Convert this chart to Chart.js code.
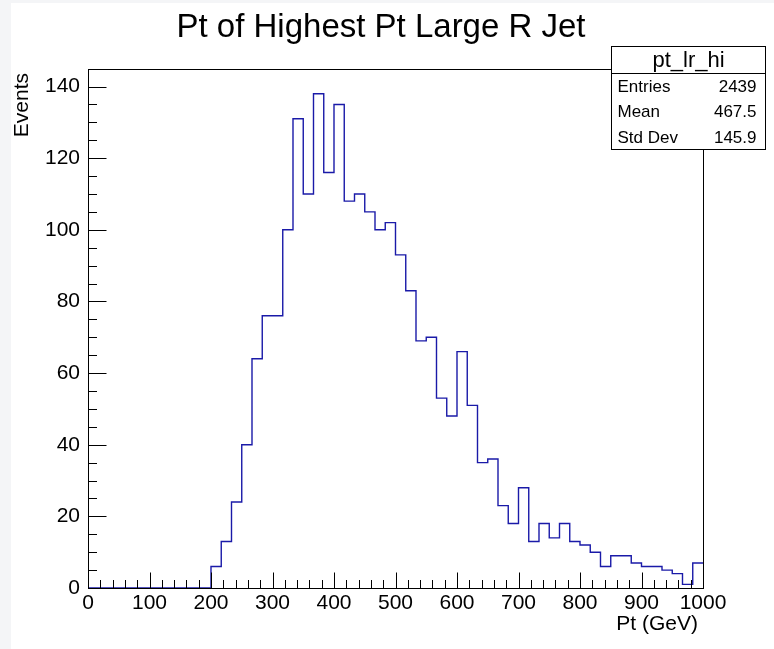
<!DOCTYPE html>
<html>
<head>
<meta charset="utf-8">
<script src="https://cdn.jsdelivr.net/npm/chart.js@4.4.1/dist/chart.umd.min.js"></script>
<style>
    html, body { margin: 0; padding: 0; background: #fff; }
    canvas { display: block; }
</style>
</head>
<body>
<canvas id="histChart" width="774" height="649"></canvas>
<script>
// histogram pt_lr_hi: 60 bins from 0 to 1000 GeV
var xMin = 0;
var xMax = 1000;
var binCounts = [
    0, 0, 0, 0, 0, 0, 0, 0, 0, 0, 0, 0,
    6, 13, 24, 40, 64, 76, 76, 100, 131, 110, 138, 116,
    135, 108, 110, 105, 100, 102, 93, 83, 69, 70, 53, 48,
    66, 51, 35, 36, 23, 18, 28, 13, 18, 14, 18, 13,
    12, 10, 6, 9, 9, 7, 6, 6, 5, 4, 1, 7
];
var xTickValues = [0, 100, 200, 300, 400, 500, 600, 700, 800, 900, 1000];
var yTickValues = [0, 20, 40, 60, 80, 100, 120, 140];
var yMax = 144.9;

var statsTitle = 'pt_lr_hi';
var statsLabels = ['Entries', 'Mean', 'Std Dev'];
var statsValues = ['2439', '467.5', '145.9'];

var FONT = "'Liberation Sans', Arial, Helvetica, sans-serif";

// left edge of every bin, plus the closing edge
var binWidth = (xMax - xMin) / binCounts.length;
var points = binCounts.map(function (c, i) {
    return { x: xMin + i * binWidth, y: c };
});
points.push({ x: xMax, y: binCounts[binCounts.length - 1] });

const rootStyle = {
    id: 'rootStyle',
    beforeDraw: function (chart) {
        const ctx = chart.ctx;
        ctx.save();
        ctx.fillStyle = '#ffffff';
        ctx.fillRect(0, 0, chart.width, chart.height);
        ctx.fillStyle = '#f4f5f7';
        ctx.fillRect(0, 0, 11, chart.height);
        ctx.fillRect(0, 0, chart.width, 3);
        ctx.restore();
    },
    afterDraw: function (chart) {
        const ctx = chart.ctx;
        const a = chart.chartArea;
        const xs = chart.scales.x, ys = chart.scales.y;
        ctx.save();
        ctx.strokeStyle = '#000';
        ctx.lineWidth = 1;

        // frame
        ctx.strokeRect(Math.round(a.left) + 0.5, Math.round(a.top) + 0.5,
            Math.round(a.right - a.left), Math.round(a.bottom - a.top));

        // ticks inside the frame
        ctx.beginPath();
        for (let v = xMin; v <= xMax; v += 20) {
            const px = Math.round(xs.getPixelForValue(v)) + 0.5;
            const len = (v % 100 === 0) ? 15.5 : 8;
            ctx.moveTo(px, a.bottom);
            ctx.lineTo(px, a.bottom - len);
        }
        for (let v = 0; v <= yMax; v += 5) {
            const py = Math.round(ys.getPixelForValue(v)) + 0.5;
            const len = (v % 20 === 0) ? 18.5 : 9;
            ctx.moveTo(a.left, py);
            ctx.lineTo(a.left + len, py);
        }
        ctx.stroke();

        // titles
        ctx.fillStyle = '#000';
        ctx.font = '33px ' + FONT;
        ctx.textAlign = 'center';
        ctx.textBaseline = 'alphabetic';
        ctx.fillText('Pt of Highest Pt Large R Jet', 381, 37);

        ctx.font = '21px ' + FONT;
        ctx.textAlign = 'right';
        ctx.fillText('Pt (GeV)', 698, 630);

        ctx.save();
        ctx.translate(28, 73);
        ctx.rotate(-Math.PI / 2);
        ctx.textAlign = 'right';
        ctx.fillText('Events', 0, 0);
        ctx.restore();

        // stats box
        const bx = 611.5, by = 46.5, bw = 154, bh = 103, hh = 27;
        ctx.fillStyle = '#fff';
        ctx.fillRect(bx, by, bw, bh);
        ctx.strokeRect(bx, by, bw, bh);
        ctx.beginPath();
        ctx.moveTo(bx, by + hh);
        ctx.lineTo(bx + bw, by + hh);
        ctx.stroke();
        ctx.fillStyle = '#000';
        ctx.font = '22px ' + FONT;
        ctx.textAlign = 'center';
        ctx.textBaseline = 'middle';
        ctx.fillText(statsTitle, bx + bw / 2, by + hh / 2 + 1);
        ctx.font = '17px ' + FONT;
        const rowH = (bh - hh) / statsLabels.length;
        statsLabels.forEach(function (lab, i) {
            const cy = by + hh + rowH * (i + 0.5) + 1;
            ctx.textAlign = 'left';
            ctx.fillText(lab, bx + 6, cy);
            ctx.textAlign = 'right';
            ctx.fillText(statsValues[i], bx + bw - 9, cy);
        });
        ctx.restore();
    }
};

new Chart(document.getElementById('histChart'), {
    type: 'line',
    data: {
        datasets: [{
            label: statsTitle,
            data: points,
            stepped: true,
            borderColor: '#1a1aa8',
            borderWidth: 1.4,
            pointRadius: 0,
            fill: false
        }]
    },
    options: {
        responsive: false,
        animation: false,
        layout: { padding: { top: 69, right: 71, left: 0, bottom: 0 } },
        plugins: {
            legend: { display: false },
            tooltip: { enabled: false },
            title: { display: false }
        },
        scales: {
            x: {
                type: 'linear',
                min: xMin,
                max: xMax,
                grid: { display: false, drawTicks: false },
                border: { display: false },
                afterBuildTicks: function (scale) {
                    scale.ticks = xTickValues.map(v => ({ value: v }));
                },
                afterFit: function (scale) { scale.height = 61; },
                ticks: {
                    color: '#000',
                    font: { family: FONT, size: 21 },
                    padding: 3,
                    maxRotation: 0,
                    autoSkip: false,
                    callback: function (value) { return String(value); }
                }
            },
            y: {
                type: 'linear',
                min: 0,
                max: yMax,
                grid: { display: false, drawTicks: false },
                border: { display: false },
                afterBuildTicks: function (scale) {
                    scale.ticks = yTickValues.map(v => ({ value: v }));
                },
                afterFit: function (scale) { scale.width = 88; },
                ticks: {
                    color: '#000',
                    font: { family: FONT, size: 21 },
                    padding: 8,
                    autoSkip: false,
                    callback: function (value) { return String(value); }
                }
            }
        }
    },
    plugins: [rootStyle]
});
</script>
</body>
</html>
